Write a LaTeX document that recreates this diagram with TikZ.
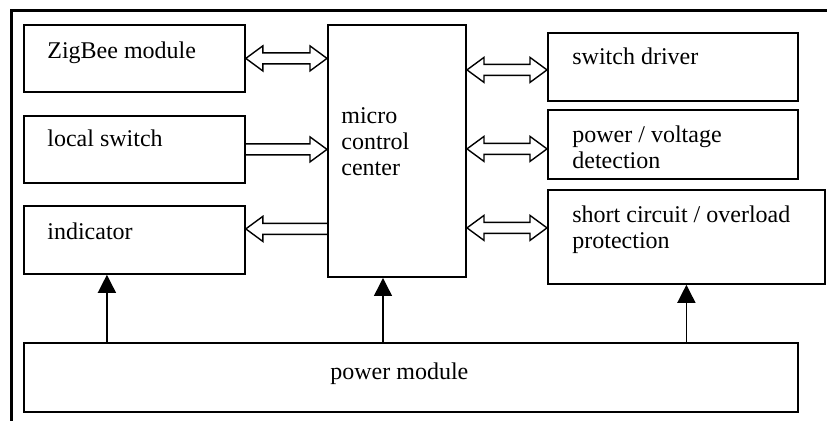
\documentclass[tikz,border=0pt]{standalone}
\usepackage{fontspec}
\setmainfont{Liberation Serif}
\usetikzlibrary{arrows.meta,calc}

\begin{document}
\begin{tikzpicture}[
    x=0.5pt, y=-0.5pt,
    box/.style={draw, line width=0.9pt, anchor=north west, inner sep=0pt},
    txt/.style={font=\fontsize{12}{13}\selectfont, anchor=base west, inner sep=0pt, align=left},
    feed/.style={line width=0.7pt, -{Triangle[length=9pt, width=9pt]}},
    hollow/.style={line width=0.7pt, to path={
        let \p1=(\tikztostart), \p2=(\tikztotarget), \n1={sign(\x2-\x1)} in
        (\x1,\y1+2.75pt) -- (\x2-\n1*8.5pt,\y1+2.75pt) -- (\x2-\n1*8.5pt,\y1+6.25pt)
        -- (\x2,\y1) -- (\x2-\n1*8.5pt,\y1-6.25pt) -- (\x2-\n1*8.5pt,\y1-2.75pt) -- (\x1,\y1-2.75pt)}},
    dblhollow/.style={line width=0.7pt, to path={
        let \p1=(\tikztostart), \p2=(\tikztotarget), \n1={sign(\x2-\x1)} in
        -- (\x1+\n1*8.5pt,\y1+6.25pt) -- (\x1+\n1*8.5pt,\y1+2.75pt)
        -- (\x2-\n1*8.5pt,\y1+2.75pt) -- (\x2-\n1*8.5pt,\y1+6.25pt) -- (\x2,\y1)
        -- (\x2-\n1*8.5pt,\y1-6.25pt) -- (\x2-\n1*8.5pt,\y1-2.75pt)
        -- (\x1+\n1*8.5pt,\y1-2.75pt) -- (\x1+\n1*8.5pt,\y1-6.25pt) -- cycle}}
]
    \path[use as bounding box] (0,0) rectangle (827,421);
    % outer frame
    \draw[line width=1.3pt] (11.3,421) -- (11.3,10.8) -- (827,10.8);
    % left column
    \node[box, minimum width=110.5pt, minimum height=33.5pt,
        label={[txt, xshift=12pt, yshift=-17.5pt]north west:ZigBee module}] (zigbee) at (23,24) {};
    \node[box, minimum width=110.5pt, minimum height=33.5pt,
        label={[txt, xshift=12pt, yshift=-16pt]north west:local switch}] (local) at (23,115) {};
    \node[box, minimum width=110.5pt, minimum height=34pt,
        label={[txt, xshift=12pt, yshift=-17.5pt]north west:indicator}] (indicator) at (23,205) {};
    % controller (multi-line labels sit on their last baseline)
    \node[box, line width=1pt, minimum width=69pt, minimum height=126pt,
        label={[txt, xshift=7pt, yshift=-76pt]north west:micro\\control\\center}] (mcc) at (327,24) {};
    % right column
    \node[box, minimum width=125pt, minimum height=34pt,
        label={[txt, xshift=12.5pt, yshift=-16.5pt]north west:switch driver}] (driver) at (547,32) {};
    \node[box, minimum width=125pt, minimum height=34.5pt,
        label={[txt, xshift=12.5pt, yshift=-30pt]north west:power / voltage\\detection}] (detect) at (547,109) {};
    \node[box, minimum width=138.5pt, minimum height=47pt,
        label={[txt, xshift=12.5pt, yshift=-30pt]north west:short circuit / overload\\protection}] (protect) at (547,189) {};
    % power supply
    \node[box, minimum width=387pt, minimum height=34.5pt,
        label={[txt, xshift=153.5pt, yshift=-19pt]north west:power module}] (power) at (23,342) {};
    % data links
    \draw[dblhollow] (zigbee.east) to (zigbee.east -| mcc.west);
    \draw[hollow] (local.east) to (local.east -| mcc.west);
    \draw[hollow] ([yshift=5.5pt]indicator.east -| mcc.west) to ([yshift=5.5pt]indicator.east);
    \draw[dblhollow] ([yshift=-1.5pt]driver.west -| mcc.east) to ([yshift=-1.5pt]driver.west);
    \draw[dblhollow] ([yshift=-2.25pt]detect.west -| mcc.east) to ([yshift=-2.25pt]detect.west);
    \draw[dblhollow] ([yshift=4.5pt]protect.west -| mcc.east) to ([yshift=4.5pt]protect.west);
    % supply lines
    \draw[feed] ([xshift=-13.75pt]indicator.south |- power.north) -- ([xshift=-13.75pt]indicator.south);
    \draw[feed] ([xshift=-7pt]mcc.south |- power.north) -- ([xshift=-7pt]mcc.south);
    \draw[feed] (protect.south |- power.north) -- (protect.south);
\end{tikzpicture}
\end{document}
